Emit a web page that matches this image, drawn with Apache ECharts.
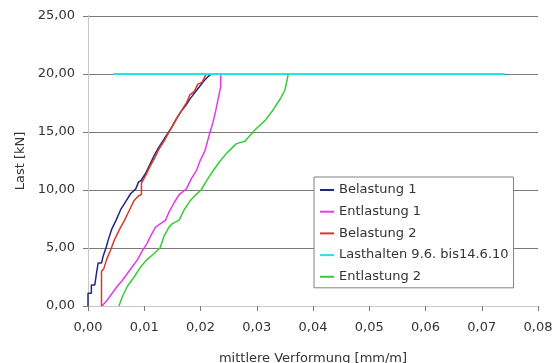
<!DOCTYPE html>
<html>
<head>
<meta charset="utf-8">
<script src="https://cdn.jsdelivr.net/npm/echarts@6/dist/echarts.min.js"></script>
<style>
  html, body { margin: 0; padding: 0; background: #fff; }
  #chart { width: 559px; height: 363px; }
</style>
</head>
<body>
<div id="chart"></div>
<script>
// Messwerte [Verformung mm/m, Last kN]
const belastung1 = [[0, 0], [0, 1.1], [0.0006, 1.1], [0.0006, 1.8], [0.0012, 1.8], [0.0015, 2.8], [0.0018, 3.7], [0.0024, 3.7], [0.0027, 4.3], [0.0032, 5.0], [0.0036, 5.7], [0.0042, 6.6], [0.0050, 7.4], [0.0058, 8.3], [0.0067, 9.0], [0.0076, 9.7], [0.0085, 10.1], [0.0090, 10.7], [0.0094, 10.8], [0.0102, 11.4], [0.0110, 12.2], [0.0118, 13.0], [0.0126, 13.7], [0.0134, 14.3], [0.0142, 14.9], [0.0150, 15.5], [0.0158, 16.2], [0.0166, 16.8], [0.0174, 17.3], [0.0182, 17.9], [0.0190, 18.4], [0.0198, 18.9], [0.0206, 19.4], [0.0214, 19.8], [0.0219, 20]]
const entlastung1 = [[0.0025, 0], [0.0034, 0.5], [0.0043, 1.1], [0.0052, 1.7], [0.0061, 2.2], [0.0070, 2.8], [0.0079, 3.4], [0.0088, 4.0], [0.0097, 4.8], [0.0105, 5.4], [0.0111, 6.0], [0.0120, 6.8], [0.0129, 7.1], [0.0138, 7.4], [0.0144, 8.1], [0.0153, 8.9], [0.0162, 9.6], [0.0175, 10.1], [0.0184, 11.0], [0.0193, 11.7], [0.0200, 12.6], [0.0208, 13.4], [0.0213, 14.3], [0.0217, 15.0], [0.0222, 15.8], [0.0226, 16.6], [0.0232, 18.0], [0.0236, 18.9], [0.0236, 20]]
const belastung2 = [[0.0024, 0], [0.0024, 3.0], [0.0028, 3.2], [0.0033, 4.0], [0.0040, 4.8], [0.0047, 5.7], [0.0056, 6.6], [0.0065, 7.4], [0.0074, 8.3], [0.0082, 9.1], [0.0090, 9.5], [0.0095, 9.6], [0.0095, 10.6], [0.0103, 11.3], [0.0111, 12.1], [0.0119, 12.8], [0.0127, 13.6], [0.0135, 14.2], [0.0143, 14.9], [0.0151, 15.6], [0.0159, 16.3], [0.0167, 16.9], [0.0175, 17.5], [0.0181, 18.2], [0.0189, 18.5], [0.0195, 19.1], [0.0203, 19.3], [0.0209, 19.9], [0.0213, 20]]
const lasthalten = [[0.0045, 20], [0.0127, 20], [0.0128, 19.9], [0.0130, 20], [0.0741, 20]]
const entlastung2 = [[0.0055, 0], [0.0061, 0.8], [0.0070, 1.7], [0.0082, 2.5], [0.0094, 3.4], [0.0105, 4.0], [0.0117, 4.5], [0.0128, 5.0], [0.0135, 6.0], [0.0144, 6.8], [0.0150, 7.1], [0.0162, 7.4], [0.0171, 8.3], [0.0182, 9.1], [0.0192, 9.6], [0.0201, 10.0], [0.0212, 10.9], [0.0223, 11.7], [0.0235, 12.5], [0.0247, 13.2], [0.0264, 14.0], [0.0279, 14.2], [0.0297, 15.2], [0.0315, 16.0], [0.0329, 16.9], [0.0341, 17.8], [0.0350, 18.6], [0.0354, 19.5], [0.0356, 20]]

const seriesNames = ['Belastung 1', 'Entlastung 1', 'Belastung 2', 'Lasthalten 9.6. bis14.6.10', 'Entlastung 2']
const seriesData = [belastung1, entlastung1, belastung2, lasthalten, entlastung2]
const seriesColors = ['#1f2a7e', '#e03ce6', '#d83a2a', '#22e4f0', '#36cc36']

const fmt = v => Number(v).toFixed(2).replace('.', ',')
const font = 'DejaVu Sans'

const chart = echarts.init(document.getElementById('chart'))

const option = {
  animation: false,
  grid: {
    left: 88,
    right: 21,
    top: 16,
    bottom: 57,
    containLabel: false,
    outerBoundsMode: 'none'
  },
  legend: {
    orient: 'vertical',
    left: 314,
    top: 177,
    padding: [6, 5, 4, 6],
    itemGap: 7.7,
    itemWidth: 14,
    itemHeight: 2,
    icon: 'rect',
    backgroundColor: '#fff',
    borderColor: '#808080',
    borderWidth: 1,
    borderRadius: 0,
    textStyle: { fontFamily: font, fontSize: 13, color: '#333', lineHeight: 14 },
    data: seriesNames
  },
  xAxis: [
    // x-Achse
    {
      type: 'value',
      min: 0,
      max: 0.08,
      interval: 0.01,
      name: 'mittlere Verformung [mm/m]',
      nameLocation: 'middle',
      nameGap: 46,
      nameTextStyle: { fontFamily: font, fontSize: 13, color: '#333' },
      axisLine: { show: true, lineStyle: { color: '#7a7a7a', width: 1 } },
      axisTick: { show: true, length: 5, lineStyle: { color: '#7a7a7a', width: 1 } },
      axisLabel: { formatter: fmt, fontFamily: font, fontSize: 13, color: '#333', margin: 15 },
      splitLine: { show: false }
    },
    // Rahmen oben
    {
      type: 'value',
      position: 'top',
      min: 0,
      max: 0.08,
      axisLine: { show: true, lineStyle: { color: '#c8c8c8', width: 1 } },
      axisTick: { show: false },
      axisLabel: { show: false },
      splitLine: { show: false }
    }
  ],
  yAxis: [
    // y-Achse
    {
      type: 'value',
      min: 0,
      max: 25,
      interval: 5,
      name: 'Last [kN]',
      nameLocation: 'middle',
      nameGap: 58,
      nameTextStyle: { fontFamily: font, fontSize: 13, color: '#333' },
      axisLine: { show: true, lineStyle: { color: '#7a7a7a', width: 1 } },
      axisTick: { show: true, length: 5, lineStyle: { color: '#7a7a7a', width: 1 } },
      axisLabel: { formatter: fmt, fontFamily: font, fontSize: 13, color: '#333', margin: 13 },
      splitLine: { show: true, lineStyle: { color: '#7a7a7a', width: 1, type: 'solid' } }
    },
    // Rahmen rechts
    {
      type: 'value',
      position: 'right',
      min: 0,
      max: 25,
      axisLine: { show: true, lineStyle: { color: '#c8c8c8', width: 1 } },
      axisTick: { show: false },
      axisLabel: { show: false },
      splitLine: { show: false }
    }
  ],
  series: seriesNames.map((name, i) => ({
    name: name,
    type: 'line',
    data: seriesData[i],
    showSymbol: false,
    symbol: 'none',
    lineStyle: { color: seriesColors[i], width: i === 3 ? 2 : 1.5 },
    itemStyle: { color: seriesColors[i] }
  }))
}

chart.setOption(option)
</script>
</body>
</html>
